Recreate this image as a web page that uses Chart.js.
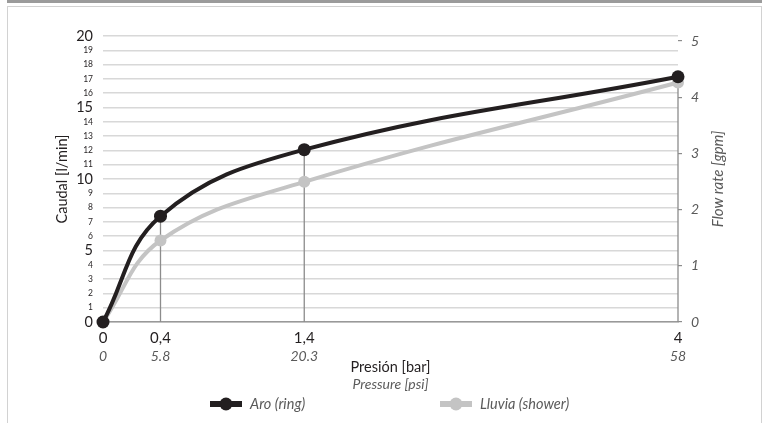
<!DOCTYPE html>
<html><head><meta charset="utf-8">
<script src="https://cdn.jsdelivr.net/npm/chart.js@4.4.0/dist/chart.umd.min.js"></script>
<style>
html,body{margin:0;padding:0;background:#fff;overflow:hidden}
#wrap{position:relative;width:767px;height:423px}
#band{position:absolute;left:7px;top:0;width:755px;height:3px;background:#9b9b9b}
#box{position:absolute;left:7px;top:6px;width:755px;height:440px;border:1px solid #d2d2d2;box-sizing:border-box}
canvas{position:absolute;left:0;top:0}
</style></head>
<body><div id="wrap"><div id="band"></div><div id="box"></div><canvas id="c" width="767" height="423"></canvas></div>
<script>
// ---- data ----
const pressureBar = [0, 0.4, 1.4, 4];
const barLabels = ['0', '0,4', '1,4', '4'];
const psiLabels = ['0', '5.8', '20.3', '58'];
const aroRing = [0, 7.4, 12.05, 17.15];
const lluviaShower = [0, 5.7, 9.8, 16.75];
const gpmTicks = [0, 1, 2, 3, 4, 5];
const seriesNames = ['Aro (ring)', 'Lluvia (shower)'];
const seriesColors = ['#231f20', '#c4c4c4'];

const F = 'Lato, "Open Sans", sans-serif';
const GRAY_TXT = '#5a5a5a';
const DARK = '#231f20';

const dropLines = {
  id: 'dropLines',
  beforeDatasetsDraw(chart) {
    const {ctx, scales: {x, y}} = chart;
    ctx.save();
    ctx.strokeStyle = '#8c8c8c';
    ctx.lineWidth = 1.3;
    pressureBar.forEach((p, i) => {
      if (aroRing[i] <= 0) return;
      const px = x.getPixelForValue(p);
      ctx.beginPath();
      ctx.moveTo(px, y.getPixelForValue(aroRing[i]));
      ctx.lineTo(px, y.getPixelForValue(0));
      ctx.stroke();
    });
    ctx.restore();
  }
};

const extras = {
  id: 'extras',
  afterDraw(chart) {
    const {ctx, chartArea} = chart;
    ctx.save();
    // right axis title (reads bottom-to-top)
    ctx.translate(718, (chartArea.top + chartArea.bottom) / 2);
    ctx.rotate(-Math.PI / 2);
    ctx.textAlign = 'center';
    ctx.textBaseline = 'middle';
    ctx.fillStyle = GRAY_TXT;
    ctx.font = 'italic 15px ' + F;
    ctx.fillText('Flow rate [gpm]', 0, 0);
    ctx.restore();

    // legend
    const starts = [210, 440];
    const ly = 404;
    chart.data.datasets.forEach((ds, i) => {
      const x0 = starts[i];
      ctx.save();
      ctx.fillStyle = ds.borderColor;
      ctx.fillRect(x0, ly - 3, 32, 6);
      ctx.beginPath();
      ctx.arc(x0 + 16, ly, 6.5, 0, Math.PI * 2);
      ctx.fill();
      ctx.fillStyle = GRAY_TXT;
      ctx.font = 'italic 14.5px ' + F;
      ctx.textAlign = 'left';
      ctx.textBaseline = 'middle';
      ctx.fillText(ds.label, x0 + 40, ly);
      ctx.restore();
    });
  }
};

const setTicks = (vals) => (s) => { s.ticks = vals.map(v => ({value: v})); };

new Chart(document.getElementById('c'), {
  type: 'line',
  data: {
    datasets: [
      {
        label: seriesNames[0],
        data: pressureBar.map((x, i) => ({x, y: aroRing[i]})),
        borderColor: seriesColors[0], backgroundColor: seriesColors[0],
        pointBackgroundColor: seriesColors[0], pointBorderWidth: 0,
        borderWidth: 4, pointRadius: 6.5,
        tension: 0.4, clip: false,
        xAxisID: 'x', yAxisID: 'y'
      },
      {
        label: seriesNames[1],
        data: pressureBar.map((x, i) => ({x, y: lluviaShower[i]})),
        borderColor: seriesColors[1], backgroundColor: seriesColors[1],
        pointBackgroundColor: seriesColors[1], pointBorderWidth: 0,
        borderWidth: 4, pointRadius: 6,
        tension: 0.4, clip: false,
        xAxisID: 'x', yAxisID: 'y'
      }
    ]
  },
  options: {
    responsive: false,
    animation: false,
    events: [],
    layout: {padding: {top: 36, left: 0, right: 0, bottom: 30}},
    plugins: {legend: {display: false}, tooltip: {enabled: false}},
    scales: {
      x: {
        type: 'linear', position: 'bottom', min: 0, max: 4,
        afterBuildTicks: setTicks(pressureBar),
        ticks: {autoSkip: false, maxRotation: 0, padding: 7, color: DARK,
          font: {family: F, size: 15},
          callback: (v, i) => barLabels[i]},
        grid: {display: false, drawTicks: false},
        border: {display: true, color: '#999999', width: 1.5},
        afterFit: s => { s.height = 26; }
      },
      xPsi: {
        type: 'linear', position: 'bottom', min: 0, max: 4,
        afterBuildTicks: setTicks(pressureBar),
        ticks: {autoSkip: false, maxRotation: 0, padding: 0, color: GRAY_TXT,
          font: {family: F, size: 14, style: 'italic'},
          callback: (v, i) => psiLabels[i]},
        grid: {display: false, drawTicks: false},
        border: {display: false},
        title: {display: true, text: 'Presión [bar]', color: DARK,
          font: {family: F, size: 14.5}, padding: {top: 0, bottom: 0}},
        afterFit: s => { s.height = 28; }
      },
      xT: {
        type: 'linear', position: 'bottom', min: 0, max: 4,
        ticks: {display: false},
        grid: {display: false, drawTicks: false},
        border: {display: false},
        title: {display: true, text: 'Pressure [psi]', color: GRAY_TXT,
          font: {family: F, size: 14, style: 'italic'}, padding: {top: 0, bottom: 0}},
        afterFit: s => { s.height = 17; }
      },
      y: {
        position: 'left', min: 0, max: 20,
        ticks: {stepSize: 1, autoSkip: false, padding: 10, color: DARK,
          font: c => (c.tick && c.tick.value % 5 === 0) ? {family: F, size: 14.5} : {family: F, size: 8.5}},
        grid: {color: '#d8d8d8', lineWidth: 1.5, drawTicks: false},
        border: {display: false},
        title: {display: true, text: 'Caudal [l/min]', color: DARK,
          font: {family: F, size: 14.5}, padding: {top: 54, bottom: 0}},
        afterFit: s => { s.width = 103; }
      },
      y2: {
        position: 'right', min: 0, max: 5.09,
        afterBuildTicks: setTicks(gpmTicks),
        ticks: {padding: 9, color: GRAY_TXT, font: {family: F, size: 14, style: 'italic'}},
        grid: {display: true, drawOnChartArea: false, drawTicks: true, tickLength: 4,
          color: '#8c8c8c', lineWidth: 1.2},
        border: {display: false},
        afterFit: s => { s.width = 89; }
      }
    }
  },
  plugins: [dropLines, extras]
});
</script>
</body></html>
